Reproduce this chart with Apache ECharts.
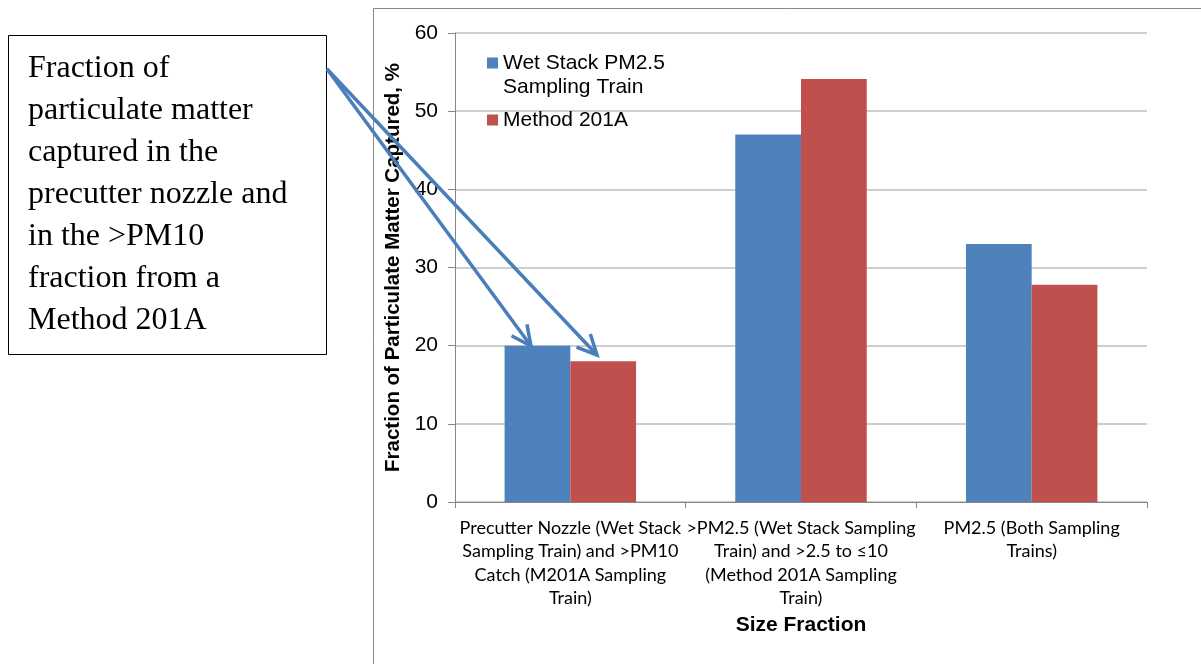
<!DOCTYPE html>
<html>
<head>
<meta charset="utf-8">
<script src="https://cdn.jsdelivr.net/npm/echarts@6/dist/echarts.min.js"></script>
<style>
  html, body { margin: 0; padding: 0; background: #fff; }
  #chart { width: 1201px; height: 664px; }
</style>
</head>
<body>
<div id="chart"></div>
<script>
// Size fractions on the category axis
const categories = [
  'Precutter Nozzle (Wet Stack\nSampling Train) and >PM10\nCatch (M201A Sampling\nTrain)',
  '>PM2.5 (Wet Stack Sampling\nTrain) and >2.5 to \u226410\n(Method 201A Sampling\nTrain)',
  'PM2.5 (Both Sampling\nTrains)'
];
const seriesNames = ['Wet Stack PM2.5 Sampling Train', 'Method 201A'];
// Percent of particulate matter captured in each fraction
const wetStackValues = [20, 47, 33];
const method201AValues = [18, 54.1, 27.8];
const yTicks = [0, 10, 20, 30, 40, 50, 60];
const xTitle = 'Size Fraction';
const yTitle = 'Fraction of Particulate Matter Captured, %';
const calloutText = 'Fraction of\nparticulate matter\ncaptured in the\nprecutter nozzle and\nin the >PM10\nfraction from a\nMethod 201A';

const chart = echarts.init(document.getElementById('chart'), null, { renderer: 'canvas' });

const blue = '#4F81BD';
const red = '#C0504D';
const arrowColor = '#4A7EBB';
const sansFont = 'Liberation Sans, Arial, sans-serif';

// Open V-shaped arrowhead at (tx, ty) for a line coming from (sx, sy)
function arrowHead(sx, sy, tx, ty, len, spread) {
  const ang = Math.atan2(ty - sy, tx - sx);
  const a1 = ang + Math.PI - spread, a2 = ang + Math.PI + spread;
  return [[tx + len * Math.cos(a1), ty + len * Math.sin(a1)], [tx, ty], [tx + len * Math.cos(a2), ty + len * Math.sin(a2)]];
}
const calloutStart = [327, 69];
const tips = [[531, 346], [597, 355]];
const arrowGraphics = [];
tips.forEach(t => {
  arrowGraphics.push({
    type: 'line', z: 100,
    shape: { x1: calloutStart[0], y1: calloutStart[1], x2: t[0], y2: t[1] },
    style: { stroke: arrowColor, lineWidth: 3.5 }
  });
  arrowGraphics.push({
    type: 'polyline', z: 100,
    shape: { points: arrowHead(calloutStart[0], calloutStart[1], t[0], t[1], 22, 0.45) },
    style: { stroke: arrowColor, lineWidth: 3.5, fill: null, lineJoin: 'miter' }
  });
});

chart.setOption({
  animation: false,
  backgroundColor: '#fff',
  grid: { left: 455, right: 54, top: 33, bottom: 162, containLabel: false },
  legend: {
    orient: 'vertical',
    left: 487,
    top: 51,
    padding: 0,
    itemWidth: 11,
    itemHeight: 11,
    itemGap: 33,
    icon: 'rect',
    data: seriesNames,
    formatter: function (name) {
      return name === seriesNames[0] ? 'Wet Stack PM2.5' : name;
    },
    textStyle: { fontFamily: sansFont, fontSize: 21, color: '#000', lineHeight: 24 }
  },
  xAxis: {
    type: 'category',
    data: categories,
    axisLine: { lineStyle: { color: '#868686', width: 1 } },
    axisTick: { show: true, length: 6, lineStyle: { color: '#868686' } },
    axisLabel: {
      interval: 0,
      margin: 14,
      fontFamily: 'Lato, Liberation Sans, sans-serif',
      fontSize: 18,
      lineHeight: 23.5,
      color: '#000',
      align: 'center'
    },
    name: xTitle,
    nameLocation: 'middle',
    nameGap: 104,
    nameTextStyle: { fontFamily: sansFont, fontWeight: 'bold', fontSize: 21, color: '#000' }
  },
  yAxis: {
    type: 'value',
    min: yTicks[0],
    max: yTicks[yTicks.length - 1],
    interval: 10,
    axisLine: { show: true, lineStyle: { color: '#868686' } },
    axisTick: { show: true, length: 7, lineStyle: { color: '#868686' } },
    splitLine: { lineStyle: { color: '#BEBEBE', width: 1.5 } },
    axisLabel: { fontFamily: sansFont, fontSize: 21, color: '#000', margin: 17 },
    name: yTitle,
    nameLocation: 'middle',
    nameGap: 44,
    nameTextStyle: { fontFamily: sansFont, fontWeight: 'bold', fontSize: 20.5, color: '#000' }
  },
  series: [
    {
      name: seriesNames[0], type: 'bar', data: wetStackValues,
      itemStyle: { color: blue }, barGap: '0%', barCategoryGap: '43%'
    },
    {
      name: seriesNames[1], type: 'bar', data: method201AValues,
      itemStyle: { color: red }, barGap: '0%', barCategoryGap: '43%'
    }
  ],
  graphic: [
    // chart frame
    {
      type: 'polyline', z: 1,
      shape: { points: [[373.5, 670], [373.5, 8.5], [1210, 8.5]] },
      style: { stroke: '#888', lineWidth: 1, fill: null }
    },
    // second line of the first legend entry
    {
      type: 'text', z: 10, left: 503, top: 77,
      style: { text: 'Sampling Train', font: '21px ' + sansFont, fill: '#000' }
    },
    // callout box
    {
      type: 'rect', z: 50,
      shape: { x: 8.5, y: 35.5, width: 318, height: 319 },
      style: { fill: '#fff', stroke: '#000', lineWidth: 1 }
    },
    {
      type: 'text', z: 51, left: 28, top: 48,
      style: {
        text: calloutText,
        font: '32px "Liberation Serif", "Times New Roman", serif',
        lineHeight: 42,
        fill: '#000'
      }
    }
  ].concat(arrowGraphics)
});
</script>
</body>
</html>
